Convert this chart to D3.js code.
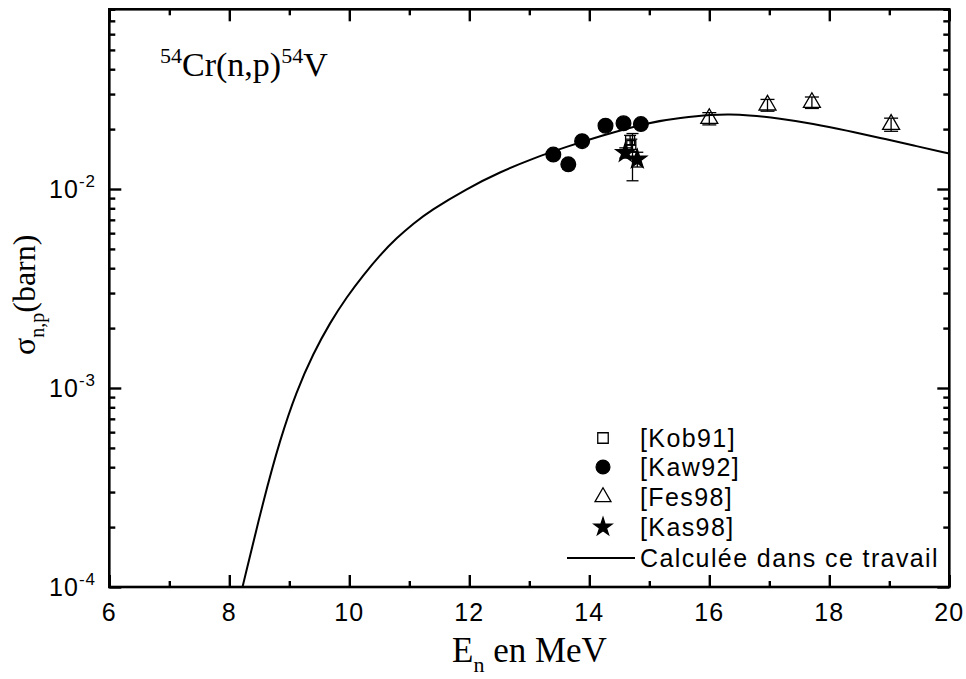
<!DOCTYPE html>
<html><head><meta charset="utf-8">
<script src="https://cdn.jsdelivr.net/npm/d3@7"></script>
<style>
body{margin:0;background:#fff;}
svg{display:block;}
.sans{font-family:Arial,"Liberation Sans",sans-serif;}
.serif{font-family:"Times New Roman","Liberation Serif",serif;}
</style></head><body>
<svg id="chart" width="966" height="679"></svg>
<script>
// ---- data ----
const curveE   = [8.22, 8.57, 8.85, 9.12, 9.40, 9.68, 9.96, 10.23, 10.51, 10.79, 11.07, 11.35, 11.96, 12.51, 13.07, 13.62, 14.18, 15.01, 15.51, 16.07, 16.34, 16.62, 17.18, 17.73, 18.29, 18.85, 19.40, 20.0];
const curveSig = [1.0e-4, 2.738e-4, 5.57e-4, 9.64e-4, 1.493e-3, 2.133e-3, 2.876e-3, 3.68e-3, 4.655e-3, 5.68e-3, 6.72e-3, 7.79e-3, 0.01005, 0.01216, 0.01429, 0.0163, 0.01845, 0.0217, 0.0228, 0.02365, 0.0237, 0.02355, 0.02265, 0.02128, 0.01968, 0.01807, 0.01656, 0.01507];

const kob91E   = [14.68, 14.70, 14.72];
const kob91Sig = [0.0176, 0.0166, 0.0150];
const kob91Err = [0.0010, 0.0012, 0.0040];

const kaw92E   = [13.40, 13.65, 13.88, 14.27, 14.57, 14.86];
const kaw92Sig = [0.0149, 0.0133, 0.0174, 0.0208, 0.0214, 0.0212];
const kaw92Err = [0.0007, 0.0007, 0.0008, 0.0010, 0.0010, 0.0010];

const fes98E   = [16.0, 16.97, 17.71, 19.03];
const fes98Sig = [0.0226, 0.0264, 0.0272, 0.0211];
const fes98Err = [0.0016, 0.0018, 0.0018, 0.0016];

const kas98E   = [14.60, 14.80];
const kas98Sig = [0.0152, 0.0141];
const kas98Err = [0.0009, 0.0012];

const xMajor = [6, 8, 10, 12, 14, 16, 18, 20];
const xMinor = [7, 9, 11, 13, 15, 17, 19];
const yMajor = [1e-4, 1e-3, 1e-2];
const yMajorExp = ["-4", "-3", "-2"];
const legendLabels = ["[Kob91]", "[Kaw92]", "[Fes98]", "[Kas98]", "Calculée dans ce travail"];

// ---- layout ----
const L = 109.3, R = 949.3, T = 9.3, B = 587;
const x = d3.scaleLinear().domain([6, 20]).range([L, R]);
const y = d3.scaleLog().domain([1e-4, 0.08]).range([B, T]);

const yMinor = [];
[1e-4, 1e-3, 1e-2].forEach(d => { for (let k = 2; k <= 9; k++) { const v = d * k; if (v <= 0.08 + 1e-12) yMinor.push(v); } });

const svg = d3.select("#chart");

// curve
const line = d3.line().x(d => x(d[0])).y(d => y(d[1])).curve(d3.curveBasis);
svg.append("path").datum(curveE.map((e, i) => [e, curveSig[i]]))
  .attr("d", line).attr("fill", "none").attr("stroke", "#000").attr("stroke-width", 2);

// error bars
function errBars(E, S, Er, cap) {
  const g = svg.append("g").attr("stroke", "#000").attr("stroke-width", 1.3);
  E.forEach((e, i) => {
    const cx = x(e), y1 = y(S[i] - Er[i]), y2 = y(S[i] + Er[i]);
    g.append("line").attr("x1", cx).attr("x2", cx).attr("y1", y1).attr("y2", y2);
    g.append("line").attr("x1", cx - cap).attr("x2", cx + cap).attr("y1", y1).attr("y2", y1);
    g.append("line").attr("x1", cx - cap).attr("x2", cx + cap).attr("y1", y2).attr("y2", y2);
  });
}
errBars(kaw92E, kaw92Sig, kaw92Err, 6);
errBars(fes98E, fes98Sig, fes98Err, 7);
errBars(kob91E, kob91Sig, kob91Err, 6);
errBars(kas98E, kas98Sig, kas98Err, 6);

function markers(E, S, type, size, filled) {
  svg.append("g").selectAll("path").data(E.map((e, i) => [e, S[i]])).join("path")
    .attr("transform", d => `translate(${x(d[0])},${y(d[1])})`)
    .attr("d", d3.symbol().type(type).size(size))
    .attr("fill", filled ? "#000" : "none").attr("stroke", "#000").attr("stroke-width", 1.3);
}
markers(kaw92E, kaw92Sig, d3.symbolCircle, 170, true);
markers(fes98E, fes98Sig, d3.symbolTriangle, 125, false);
markers(kob91E, kob91Sig, d3.symbolSquare, 81, false);
markers(kas98E, kas98Sig, d3.symbolStar, 110, true);

// frame
svg.append("rect").attr("x", L).attr("y", T).attr("width", R - L).attr("height", B - T)
  .attr("fill", "none").attr("stroke", "#000").attr("stroke-width", 2.6);

// ticks via axes (inward)
const axG = svg.append("g");
function styleAx(g) { g.select(".domain").remove(); g.selectAll("line").attr("stroke", "#000").attr("stroke-width", 2.4); g.selectAll("text").remove(); }
axG.append("g").attr("transform", `translate(0,${B})`).call(d3.axisBottom(x).tickValues(xMajor).tickSize(-12)).call(styleAx);
axG.append("g").attr("transform", `translate(0,${B})`).call(d3.axisBottom(x).tickValues(xMinor).tickSize(-6)).call(styleAx);
axG.append("g").attr("transform", `translate(0,${T})`).call(d3.axisTop(x).tickValues(xMajor).tickSize(-12)).call(styleAx);
axG.append("g").attr("transform", `translate(0,${T})`).call(d3.axisTop(x).tickValues(xMinor).tickSize(-6)).call(styleAx);
axG.append("g").attr("transform", `translate(${L},0)`).call(d3.axisLeft(y).tickValues(yMajor).tickSize(-12)).call(styleAx);
axG.append("g").attr("transform", `translate(${L},0)`).call(d3.axisLeft(y).tickValues(yMinor).tickSize(-6)).call(styleAx);
axG.append("g").attr("transform", `translate(${R},0)`).call(d3.axisRight(y).tickValues(yMajor).tickSize(-12)).call(styleAx);
axG.append("g").attr("transform", `translate(${R},0)`).call(d3.axisRight(y).tickValues(yMinor).tickSize(-6)).call(styleAx);

// x tick labels
svg.append("g").selectAll("text").data(xMajor).join("text").attr("class", "sans")
  .attr("x", d => x(d)).attr("y", 621).attr("text-anchor", "middle")
  .attr("font-size", 25).attr("letter-spacing", 1.2).text(d => d);

// y tick labels
yMajor.forEach((v, i) => {
  const t = svg.append("text").attr("class", "sans").attr("x", 96).attr("y", y(v) + 9)
    .attr("text-anchor", "end").attr("font-size", 25).attr("letter-spacing", 1);
  t.append("tspan").text("10");
  t.append("tspan").attr("font-size", 17).attr("dy", -11).text(yMajorExp[i]);
});

// x title
const xt = svg.append("text").attr("class", "serif").attr("x", 452).attr("y", 662).attr("font-size", 35);
xt.append("tspan").text("E");
xt.append("tspan").attr("font-size", 22).attr("dy", 10).text("n");
xt.append("tspan").attr("dy", -10).text(" en MeV");

// y title
const yt = svg.append("text").attr("class", "serif").attr("font-size", 32)
  .attr("transform", "translate(35,355) rotate(-90)").attr("text-anchor", "start");
yt.append("tspan").text("σ");
yt.append("tspan").attr("font-size", 20).attr("dy", 9).text("n,p");
yt.append("tspan").attr("dy", -9).text("(barn)");

// annotation
const an = svg.append("text").attr("class", "serif").attr("x", 160).attr("y", 76).attr("font-size", 34);
an.append("tspan").attr("font-size", 22).attr("dy", -13).text("54");
an.append("tspan").attr("dy", 13).text("Cr(n,p)");
an.append("tspan").attr("font-size", 22).attr("dy", -13).text("54");
an.append("tspan").attr("dy", 13).text("V");

// legend
const legY = [438, 467, 497, 527, 558];
const legSym = [
  {type: d3.symbolSquare, size: 110, fill: false},
  {type: d3.symbolCircle, size: 150, fill: true},
  {type: d3.symbolTriangle, size: 110, fill: false},
  {type: d3.symbolStar, size: 100, fill: true}
];
legSym.forEach((s, i) => {
  svg.append("path").attr("transform", `translate(603,${legY[i]})`)
    .attr("d", d3.symbol().type(s.type).size(s.size))
    .attr("fill", s.fill ? "#000" : "none").attr("stroke", "#000").attr("stroke-width", 1.3);
});
svg.append("line").attr("x1", 567).attr("x2", 635).attr("y1", legY[4]).attr("y2", legY[4])
  .attr("stroke", "#000").attr("stroke-width", 2);
legendLabels.forEach((t, i) => {
  svg.append("text").attr("class", "sans").attr("x", 640).attr("y", legY[i] + 9)
    .attr("font-size", 25).attr("letter-spacing", 1.4).text(t);
});
</script>
</body></html>
